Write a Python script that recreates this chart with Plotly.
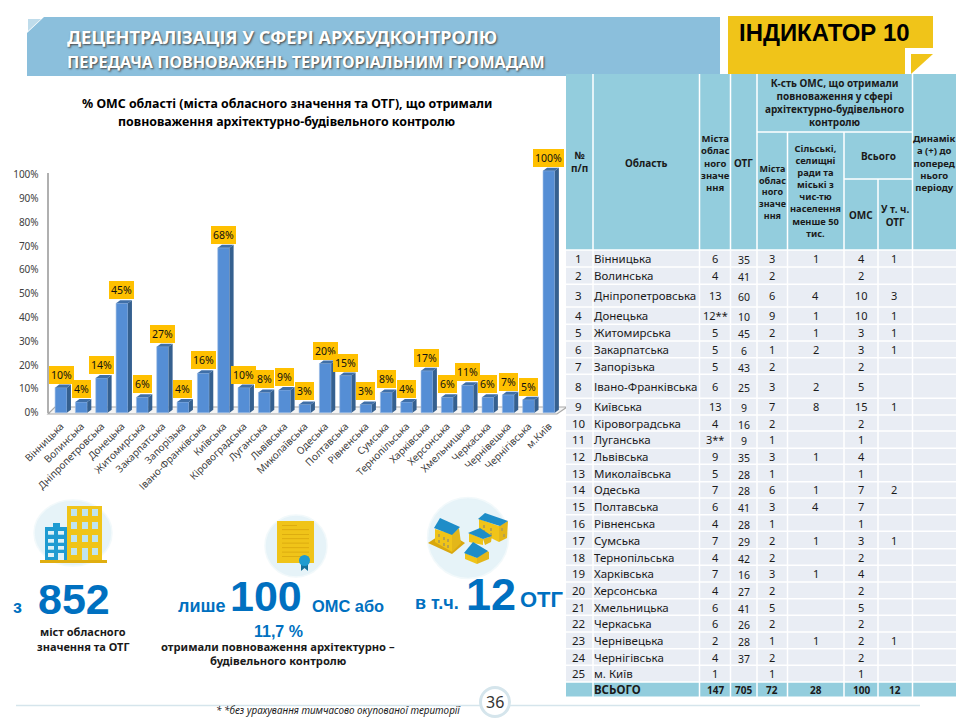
import plotly.graph_objects as go

# ---------- chart data ----------
regions = ["Вінницька","Волинська","Дніпропетровська","Донецька","Житомирська","Закарпатська","Запорізька",
           "Івано-Франківська","Київська","Кіровоградська","Луганська","Львівська","Миколаївська","Одеська",
           "Полтавська","Рівненська","Сумська","Тернопільська","Харківська","Херсонська","Хмельницька",
           "Черкаська","Чернівецька","Чернігівська","м.Київ"]
percent = [10,4,14,45,6,27,4,16,68,10,8,9,3,20,15,3,8,4,17,6,11,6,7,5,100]
y_ticks = [0,10,20,30,40,50,60,70,80,90,100]
y_tick_labels = [f"{t}%" for t in y_ticks]

# ---------- table data ----------
row_no = [str(i) for i in range(1,26)]
row_names = ["Вінницька","Волинська","Дніпропетровська","Донецька","Житомирська","Закарпатська","Запорізька",
             "Івано-Франківська","Київська","Кіровоградська","Луганська","Львівська","Миколаївська","Одеська",
             "Полтавська","Рівненська","Сумська","Тернопільська","Харківська","Херсонська","Хмельницька",
             "Черкаська","Чернівецька","Чернігівська","м. Київ"]
col_cities = ["6","4","13","12**","5","5","5","6","13","4","3**","9","5","7","6","4","7","4","7","4","6","6","2","4","1"]
col_otg = ["35","41","60","10","45","6","43","25","9","16","9","35","28","28","41","28","29","42","16","27","41","26","28","37",""]
col_got_city = ["3","2","6","9","2","1","2","3","7","2","1","3","1","6","3","1","2","2","3","2","5","2","1","2","1"]
col_got_rural = ["1","","4","1","1","2","","2","8","","","1","","1","4","","1","","1","","","","1","",""]
col_got_oms = ["4","2","10","10","3","3","2","5","15","2","1","4","1","7","7","1","3","2","4","2","5","2","2","2","1"]
col_got_otg = ["1","","3","1","1","1","","","1","","","","","2","","","1","","","","","","1","",""]
totals = ["147","705","72","28","100","12"]

# ---------- layout geometry (pixels of the 960x720 page) ----------
W, H = 960, 720
col_x = [566,593,699.5,730.5,757,787.5,844,878,912.5,956]
row_y = [250,267,284.3,307,324.3,341,357.7,374.3,398.3,415,431,448.3,464.3,481.7,498,514.7,531.3,548.7,
         565.3,582,598.7,615.3,632,648.7,665.3,682,697.3]
HEAD_C, ROW_C, BLUE, GOLD = "#93CDDD", "#E9EDF4", "#0070C0", "#F0C419"
BAR, BAR_SIDE, BAR_TOP = "#558ED5", "#35608F", "#3F6FA8"
DGOLD, ROOF, PALE = "#D9A70E", "#1E8DC8", "#BFE4F0"
BODY = "Noto Sans"
ARIAL = "Liberation Sans"

px = lambda x: x / W
py = lambda y: 1 - y / H
shapes, notes = [], []

def rect(x0, y0, x1, y1, fill, line=None, lw=0, layer="below"):
    shapes.append(dict(type="rect", xref="paper", yref="paper", x0=px(x0), x1=px(x1), y0=py(y0), y1=py(y1),
                       fillcolor=fill, line=dict(color=line or fill, width=lw), layer=layer))

def poly(points, fill, line=None, lw=0, layer="below"):
    d = "M " + " L ".join(f"{px(a):.5f},{py(b):.5f}" for a, b in points) + " Z"
    shapes.append(dict(type="path", xref="paper", yref="paper", path=d, fillcolor=fill,
                       line=dict(color=line or fill, width=lw), layer=layer))

def circle(cx, cy, r, fill, line=None, lw=0, ry=None):
    ry = ry or r
    shapes.append(dict(type="circle", xref="paper", yref="paper", x0=px(cx-r), x1=px(cx+r), y0=py(cy+ry), y1=py(cy-ry),
                       fillcolor=fill, line=dict(color=line or fill, width=lw), layer="below"))

def text(x, y, s, size=11, color="#1a1a1a", bold=False, anchor="center", family=BODY, italic=False, shadow=None):
    t = f"<b>{s}</b>" if bold else s
    if italic:
        t = f"<i>{t}</i>"
    font = dict(size=size, color=color, family=family)
    if shadow:
        font["shadow"] = shadow
    notes.append(dict(xref="paper", yref="paper", x=px(x), y=py(y), text=t, showarrow=False, font=font,
                      xanchor=anchor, yanchor="middle", align="center", borderpad=0, borderwidth=0))

# ---------- banner and indicator tag ----------
poly([(27,33),(44,17),(720,17),(720,76),(27,76)], "#8BBFDC")
poly([(28,31),(28,19),(41,19)], "#BFDCEB")
text(67, 37, "ДЕЦЕНТРАЛІЗАЦІЯ У СФЕРІ АРХБУДКОНТРОЛЮ", 18.15, "white", True, "left", shadow="1px 1px 2px #444")
text(67, 62, "ПЕРЕДАЧА ПОВНОВАЖЕНЬ ТЕРИТОРІАЛЬНИМ ГРОМАДАМ", 16.15, "white", True, "left", shadow="1px 1px 2px #444")
poly([(728,16),(933,16),(933,48),(905,48),(905,74),(728,74)], GOLD)
poly([(911,54),(933,54),(911,74)], GOLD)
text(739, 33, "ІНДИКАТОР 10", 23.9, "black", True, "left", ARIAL)

# ---------- chart title, wall and floor ----------
text(287, 104, "% ОМС області (міста обласного значення та ОТГ), що отримали", 12.4, "black", True)
text(287, 121, "повноваження архітектурно-будівельного контролю", 12.4, "black", True)
shapes.append(dict(type="line", xref="paper", yref="paper", x0=px(48), x1=px(48), y0=py(173), y1=py(413),
                   line=dict(color="#B0B0B0", width=2), layer="below"))
poly([(48,414),(55,407),(567,407),(557,414)], "#F4F4F4", "#A8A8A8", 1.2)

# ---------- fake 3D depth of the bars, in data coordinates ----------
BW, DX, DY = 0.29, 0.2, 1.25
for i, v in enumerate(percent):
    a, b = i + BW, i + BW + DX
    shapes.append(dict(type="path", xref="x", yref="y", layer="above", fillcolor=BAR_SIDE, line=dict(width=0),
                       path=f"M {a},0 L {b},{DY} L {b},{v+0.4+DY} L {a},{v+0.4} Z"))
    shapes.append(dict(type="path", xref="x", yref="y", layer="above", fillcolor=BAR_TOP, line=dict(width=0),
                       path=f"M {i-BW},{v+0.4} L {i-BW+DX},{v+0.4+DY} L {b},{v+0.4+DY} L {a},{v+0.4} Z"))

bars = go.Bar(x=list(range(len(regions))), y=[v + 0.4 for v in percent], width=2*BW,
              marker=dict(color=BAR, line=dict(color="#9CBCE6", width=0.6)), showlegend=False, cliponaxis=False,
              hoverinfo="skip")

for i, v in enumerate(percent):
    notes.append(dict(xref="x", yref="y", x=i, y=v, text=f"{v}%", showarrow=False, yanchor="middle", yshift=14,
                      bgcolor="#FFC000", borderpad=2, borderwidth=0,
                      font=dict(size=10.5, color="#111", family=BODY)))

# ---------- table ----------
rect(col_x[0], 74, col_x[-1], 250, HEAD_C)
rect(col_x[0], row_y[-2], col_x[-1], row_y[-1], HEAD_C)
rect(col_x[0], row_y[0], col_x[-1], row_y[-2], ROW_C)
def wline(x0, y0, x1, y1, w=1.5):
    shapes.append(dict(type="line", xref="paper", yref="paper", x0=px(x0), x1=px(x1), y0=py(y0), y1=py(y1),
                       line=dict(color="white", width=w), layer="below"))
for x in col_x[1:-1]:
    if x in (col_x[5], col_x[6]):
        wline(x, 132, x, row_y[-1])
    elif x == col_x[7]:
        wline(x, 179, x, row_y[-1])
    else:
        wline(x, 74, x, row_y[-1])
wline(col_x[4], 132, col_x[8], 132)
wline(col_x[6], 179, col_x[8], 179)
for y in row_y:
    wline(col_x[0], y, col_x[-1], y)

HS = 10
text((col_x[0]+col_x[1])/2, 162, "№<br>п/п", HS, bold=True)
text((col_x[1]+col_x[2])/2, 163, "Область", HS, bold=True)
text((col_x[2]+col_x[3])/2, 163, "Міста<br>облас<br>ного<br>значе<br>ння", 9.5, bold=True)
text((col_x[3]+col_x[4])/2, 163, "ОТГ", HS, bold=True)
text((col_x[4]+col_x[8])/2, 103, "К-сть ОМС, що отримали<br>повноваження у сфері<br>архітектурно-будівельного<br>контролю", HS, bold=True)
text((col_x[4]+col_x[5])/2, 192, "Міста<br>облас<br>ного<br>значе<br>ння", 9, bold=True)
text((col_x[5]+col_x[6])/2, 191, "Сільські,<br>селищні<br>ради та<br>міські з<br>чис-тю<br>населення<br>менше 50<br>тис.", 9.3, bold=True)
text((col_x[6]+col_x[8])/2, 156, "Всього", HS, bold=True)
text((col_x[6]+col_x[7])/2, 215, "ОМС", HS, bold=True)
text((col_x[7]+col_x[8])/2, 215, "У т. ч.<br>ОТГ", HS, bold=True)
text((col_x[8]+col_x[9])/2, 163, "Динамік<br>а (+) до<br>поперед<br>нього<br>періоду", 9.5, bold=True)

TS = 11.5
for r in range(25):
    yc = (row_y[r] + row_y[r+1]) / 2
    text(578.5, yc, row_no[r], TS)
    text(594, yc, row_names[r], TS, anchor="left")
    text((col_x[2]+col_x[3])/2, yc, col_cities[r], TS - 0.5)
    if col_otg[r]:
        text((col_x[3]+col_x[4])/2, yc + 1.5, col_otg[r], TS - 1)
    for c, arr in zip((4, 5, 6, 7), (col_got_city, col_got_rural, col_got_oms, col_got_otg)):
        if arr[r]:
            text((col_x[c]+col_x[c+1])/2 - (1 if c == 7 else 0), yc, arr[r], TS - 0.5)
yc = (row_y[-2] + row_y[-1]) / 2
text(594, yc, "ВСЬОГО", TS, bold=True, anchor="left")
for c, s in zip((2, 3, 4, 5, 6, 7), totals):
    text((col_x[c]+col_x[c+1])/2, yc, s, 10, bold=True)

# ---------- icon 1: city buildings ----------
circle(73, 533, 39, "#E6F3F8", "#F2F9FB", 1.5, ry=33)
rect(67, 506, 102, 560, GOLD)
rect(45, 527, 67, 560, "#1F9BD1")
rect(53, 523, 60, 527, "#1F9BD1")
rect(40, 560, 107, 563, "#E0AE10")
for x0 in (71, 82, 92):
    for y0 in (509, 522, 535):
        rect(x0, y0, x0+6, y0+7, PALE)
for x0 in (71, 92):
    rect(x0, 548, x0+6, 555, PALE)
rect(82, 548, 88, 560, PALE)
for x0 in (48, 58):
    for y0 in (531, 539, 546):
        rect(x0, y0, x0+6, y0+3.7, "#DDF1F7")
rect(48, 553, 54, 557, "#DDF1F7")
rect(58, 553, 64, 560, "#DDF1F7")

# ---------- icon 2: certificate ----------
circle(296, 546, 31, "#E6F3F8", "#F2F9FB", 1.5)
rect(277, 521, 314, 563, GOLD)
rect(282, 525, 297, 525.8, DGOLD)
for y0 in (529.3, 534, 538.3, 542.7, 547.3, 551.7, 556):
    rect(282, y0, 309, y0+0.8, DGOLD)
poly([(301,563),(301,571),(304.5,568),(308,571),(308,563)], "#14709A")
circle(304.5, 560.5, 5.5, "#1E9BD0")

# ---------- icon 3: houses ----------
circle(468, 538, 40.5, "#E6F3F8", "#F2F9FB", 1.5)
# house A on its plot
poly([(428,543),(446,531),(465,543),(452,554)], DGOLD)
poly([(435,529),(452,534),(452,552),(435,542)], GOLD)
poly([(452,534),(459,528),(461,543),(452,552)], "#E3B71A")
poly([(434,528),(440,518),(460,527),(452,535)], ROOF)
for x0, y0 in ((438,534),(443,537),(438,540),(443,543),(447,539),(447,545)):
    rect(x0, y0, x0+2, y0+3, "#B9A24A")
# house B
poly([(479,519),(499,526),(499,542),(479,532)], GOLD)
poly([(499,526),(508,521),(507,538),(499,542)], "#E3B71A")
poly([(478,519),(485,513),(508,521),(500,526)], ROOF)
for x0, y0 in ((483,525),(490,528),(483,530),(490,533),(501,528),(503,534)):
    rect(x0, y0, x0+2, y0+3, "#B9A24A")
# house C
poly([(469,533),(483,539),(483,545),(469,542)], GOLD)
poly([(483,539),(492,536),(491,542),(485,545)], "#E3B71A")
poly([(468,533),(480,528),(492,536),(483,539)], ROOF)
# house D
poly([(465,553),(477,558),(477,564),(465,559)], GOLD)
poly([(477,558),(482,548),(489,552),(489,559),(477,564)], "#E3B71A")
poly([(464,553),(473,542),(488,551),(477,558)], ROOF)

# ---------- big numbers ----------
text(17, 607, "з", 18, BLUE, True, family=ARIAL)
text(73.5, 599, "852", 43, BLUE, True, family=ARIAL)
text(83, 631, "міст обласного", 11, "#1a1a1a", True, family=BODY)
text(83, 646, "значення та ОТГ", 11, "#1a1a1a", True, family=BODY)
text(202, 606, "лише", 18, BLUE, True, family=ARIAL)
text(266, 596, "100", 43, BLUE, True, family=ARIAL)
text(347.5, 606, "ОМС або", 16.4, BLUE, True, family=ARIAL)
text(278, 631, "11,7 %", 16, BLUE, True, family=ARIAL)
text(278, 646, "отримали повноваження архітектурно –", 11.2, "#1a1a1a", True, family=BODY)
text(278, 660, "будівельного контролю", 11.2, "#1a1a1a", True, family=BODY)
text(437, 603, "в т.ч.", 18, BLUE, True, family=ARIAL)
text(491, 594, "12", 45, BLUE, True, family=ARIAL)
text(541.5, 599, "ОТГ", 22, BLUE, True, family=ARIAL)

# ---------- footer ----------
shapes.append(dict(type="line", xref="paper", yref="paper", x0=px(16), x1=px(920), y0=py(705.5), y1=py(705.5),
                   line=dict(color="#D5E5EC", width=1.5), layer="below"))
circle(495, 702, 14.5, "white", "#D5E5EC", 3)
text(495, 702, "36", 16, "#333", family=BODY)
text(338.5, 710, "* *без урахування тимчасово окупованої території", 9.9, "#222", italic=True)

# ---------- figure ----------
SCALE = 2.41          # px per percent
ZERO_PX = 412.7
Y_MIN, Y_MAX = -2, 106
BAR_STEP = 20.33      # px per category
LEFT_C = 61           # px of first category
X_MIN, X_MAX = -1.05, 24.9
# the value ticks sit on the back wall, slightly tighter than the front of the bars
tick_pos = [t * 2.38 / SCALE for t in y_ticks]

fig = go.Figure(bars)
fig.update_layout(
    width=W, height=H, margin=dict(l=0, r=0, t=0, b=0, autoexpand=False), paper_bgcolor="white",
    plot_bgcolor="rgba(0,0,0,0)",
    shapes=shapes, annotations=notes, showlegend=False, font=dict(family=BODY),
    xaxis=dict(domain=[px(LEFT_C + X_MIN*BAR_STEP), px(LEFT_C + X_MAX*BAR_STEP)], range=[X_MIN, X_MAX],
               tickmode="array", tickvals=list(range(len(regions))), ticktext=regions, tickangle=-45,
               tickfont=dict(size=10, color="#404040", family=BODY), showgrid=False, zeroline=False,
               showline=False, ticks="", automargin=False),
    yaxis=dict(domain=[py(ZERO_PX - Y_MIN*SCALE), py(ZERO_PX - Y_MAX*SCALE)], range=[Y_MIN, Y_MAX],
               tickmode="array", tickvals=tick_pos, ticktext=y_tick_labels,
               tickfont=dict(size=10, color="#404040", family=BODY), showgrid=False, zeroline=False,
               showline=False, ticks="", automargin=False),
)
fig.write_html("out.html", config={"displayModeBar": False},
               post_script="document.body.style.margin='0';document.documentElement.style.overflow='hidden';")
